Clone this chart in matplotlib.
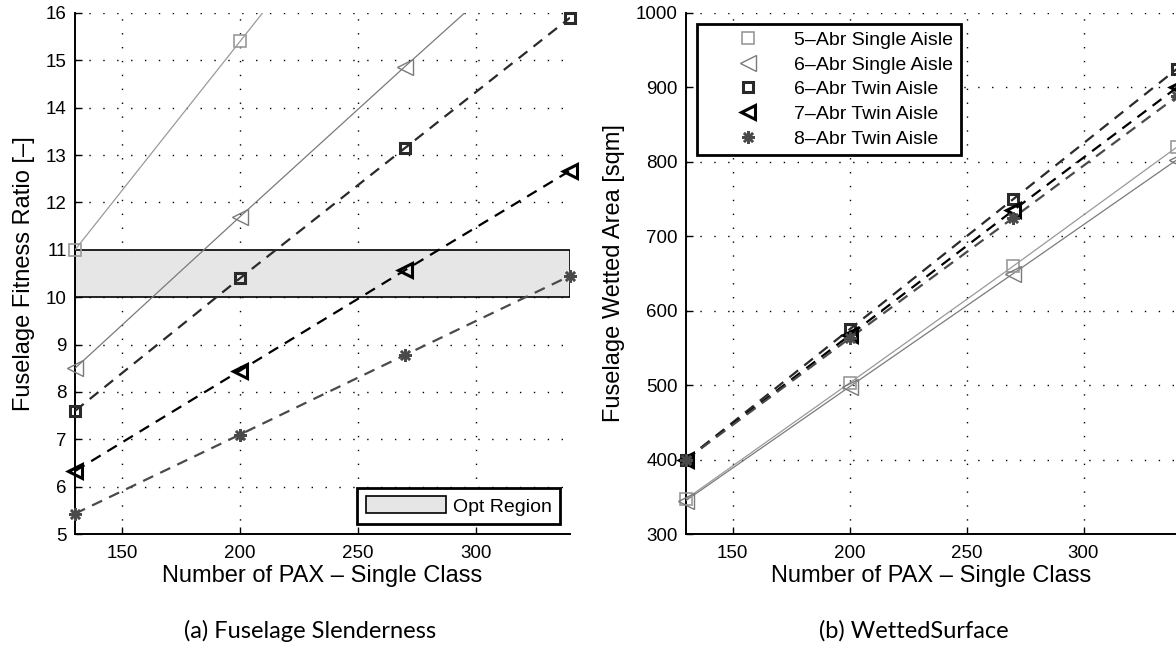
import matplotlib
matplotlib.use("Agg")
import matplotlib.pyplot as plt
from matplotlib.patches import Rectangle

plt.rcParams['font.family'] = ['Liberation Sans', 'DejaVu Sans']

pax = [130, 200, 270, 340]
names = ["5\u2013Abr Single Aisle", "6\u2013Abr Single Aisle", "6\u2013Abr Twin Aisle",
         "7\u2013Abr Twin Aisle", "8\u2013Abr Twin Aisle"]

# fitness ratio (left), points above 16 are off the plot
fitness = [
    [11.0, 15.4, 19.8, 24.2],
    [8.5, 11.7, 14.87, 18.0],
    [7.6, 10.4, 13.15, 15.9],
    [6.33, 8.45, 10.57, 12.67],
    [5.43, 7.1, 8.78, 10.45],
]
# wetted area (right)
wetted = [
    [347, 503, 660, 820],
    [345, 498, 650, 803],
    [400, 575, 750, 925],
    [400, 567, 735, 900],
    [400, 563, 725, 888],
]
opt_lo, opt_hi = 10, 11

colors = ["#9a9a9a", "#7a7a7a", "#2a2a2a", "#000000", "#4a4a4a"]
markers = ["s", "<", "s", "<", (8, 2, 0)]
msizes = [8, 11.5, 6.5, 10, 9]
mews = [1.2, 1.0, 2.2, 2.2, 1.8]
dash = (0, (5, 3.5))
styles = ["-", "-", dash, dash, dash]
lws = [0.9, 0.9, 1.6, 1.6, 1.6]

fig = plt.figure(figsize=(11.76, 6.53), dpi=100)
ax1 = fig.add_axes([0.0638, 0.1822, 0.4209, 0.7979])
ax2 = fig.add_axes([0.5833, 0.1822, 0.4176, 0.7979])


def style_ax(ax):
    ax.spines['top'].set_visible(False)
    ax.spines['right'].set_visible(False)
    ax.spines['left'].set_linewidth(1.4)
    ax.spines['bottom'].set_linewidth(1.4)
    ax.tick_params(direction='in', length=5, width=1, labelsize=13.5, pad=8)
    ax.tick_params(axis='y', pad=6)
    ax.grid(True, color='black', linestyle=(0, (1, 9)), linewidth=1.0)
    ax.set_xlim(130, 340)
    ax.set_xticks([150, 200, 250, 300])
    ax.set_xlabel("Number of PAX \u2013 Single Class", fontsize=17, labelpad=2)


def draw_series(ax, data):
    handles = []
    for i, vals in enumerate(data):
        face = colors[i] if i == 4 else 'none'
        ax.plot(pax, vals, color=colors[i], linestyle=styles[i], linewidth=lws[i], zorder=3)
        ax.plot(pax, vals, linestyle='none', marker=markers[i], markersize=msizes[i],
                markerfacecolor=face, markeredgecolor=colors[i],
                markeredgewidth=mews[i], clip_on=False, zorder=4)
        h, = ax.plot([], [], linestyle='none', marker=markers[i], markersize=msizes[i],
                     markerfacecolor=face, markeredgecolor=colors[i],
                     markeredgewidth=mews[i])
        handles.append(h)
    return handles


# left panel
style_ax(ax1)
ax1.set_ylim(5, 16)
ax1.set_yticks(range(5, 17))
opt = Rectangle((130, opt_lo), 210, opt_hi - opt_lo, facecolor='#e6e6e6',
                edgecolor='black', linewidth=1.2, zorder=2, label="Opt Region")
ax1.add_patch(opt)
draw_series(ax1, fitness)
ax1.set_ylabel("Fuselage Fitness Ratio [\u2013]", fontsize=17, labelpad=8)
leg1 = ax1.legend(handles=[opt], loc='lower right', fontsize=14, fancybox=False,
                  edgecolor='black', framealpha=1, handlelength=4.1, handleheight=0.95,
                  handletextpad=0.35, borderaxespad=0.5, borderpad=0.45)
leg1.get_frame().set_linewidth(2.0)

# right panel
style_ax(ax2)
ax2.set_ylim(300, 1000)
ax2.set_yticks(range(300, 1001, 100))
hs = draw_series(ax2, wetted)
ax2.set_ylabel("Fuselage Wetted Area [sqm]", fontsize=17, labelpad=8)
leg2 = ax2.legend(hs, names, loc='upper left', fontsize=14, fancybox=False,
                  edgecolor='black', framealpha=1, handlelength=4.5,
                  handletextpad=0.1, labelspacing=0.36, borderaxespad=0.55,
                  borderpad=0.4)
leg2.get_frame().set_linewidth(2.0)

fig.text(0.264, 0.034, "(a) Fuselage Slenderness", ha='center', va='center',
         fontsize=17, family='Lato')
fig.text(0.777, 0.034, "(b) WettedSurface", ha='center', va='center',
         fontsize=17, family='Lato')

fig.savefig("out.png", dpi=100)
